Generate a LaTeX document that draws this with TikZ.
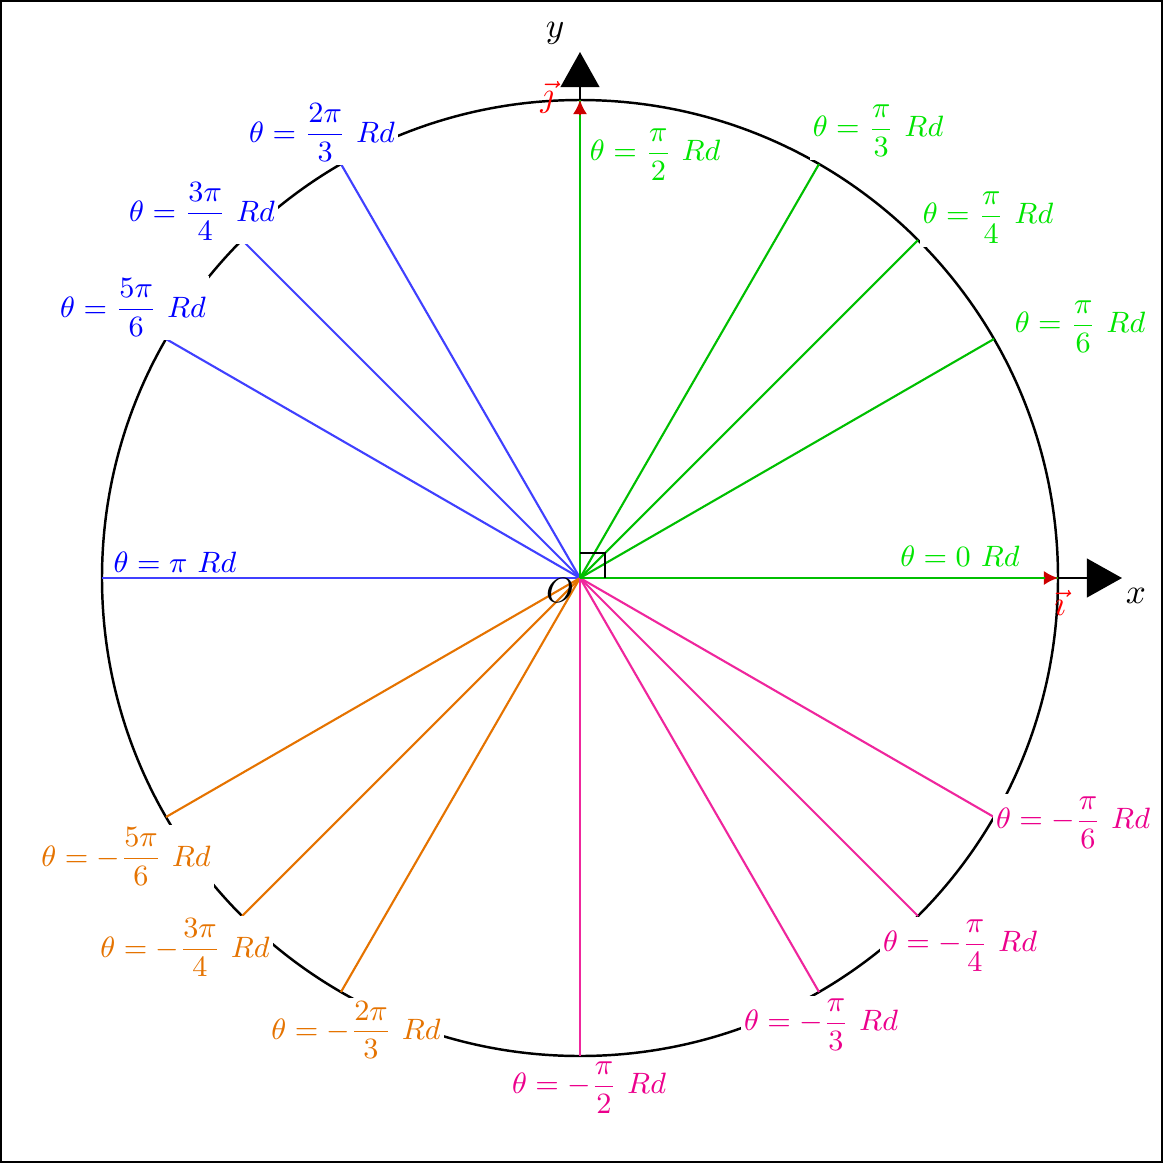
\documentclass[tikz,border=0pt]{standalone}
\usepackage{amsmath}
\usetikzlibrary{arrows.meta}
\begin{document}
\begin{tikzpicture}[x=0.01cm,y=-0.01cm,
  lab/.style={fill=white,inner sep=1pt,font=\small,scale=0.93},
  gl/.style={draw=green!75!black,line width=0.6pt},
  bl/.style={draw=blue!75!white,line width=0.6pt},
  ol/.style={draw=orange!90!black,line width=0.6pt},
  ml/.style={draw=magenta!85!white,line width=0.6pt}]
\useasboundingbox (0,0) rectangle (1163,1163);
\draw[line width=0.8pt] (1,1) rectangle (1162,1162);
\coordinate (O) at (580,578);
\draw[line width=0.7pt] (O) circle [radius=478];
% axes
\coordinate (X) at (1122,578);
\coordinate (Y) at (580,52);
\draw[line width=0.7pt,-{Triangle[length=10pt,width=11pt]}] (O) -- (X);
\draw[line width=0.7pt,-{Triangle[length=10pt,width=11pt]}] (O) -- (Y);
\node (xl) at (1136,596) {$x$};
\node (yl) at (555,33) {$y$};
% rays
\foreach \a/\s in {0/gl,30/gl,45/gl,60/gl,90/gl,120/bl,135/bl,150/bl,180/bl,-150/ol,-135/ol,-120/ol,-90/ml,-60/ml,-45/ml,-30/ml}{
  \coordinate (E\a) at ({580+478*cos(\a)},{578-478*sin(\a)});
  \draw[\s] (O) -- (E\a);
}
% unit vectors
\draw[red!80!black,line width=0.6pt,-{Latex[length=4pt,width=4pt]}] (O) -- (E0);
\draw[red!80!black,line width=0.6pt,-{Latex[length=4pt,width=4pt]}] (O) -- (E90);
\draw[green!75!black,line width=0.6pt] (O) -- (1045,578);
\draw[green!75!black,line width=0.6pt] (O) -- (580,115);
\node[red] (vi) at (1060,603) {$\vec{\imath}$};
\node[red] (vj) at (547,97) {$\vec{\jmath}$};
\node (Ol) at (560,590) {$O$};
\draw[line width=0.5pt] (580,553) -- (605,553) -- (605,578);
% labels
\begin{scope}[every node/.append style={lab}]
\node[text=green!90!black,fill=none,anchor=west] at (586,155) {$\theta=\dfrac{\pi}{2}\ Rd$};
\node[text=green!90!black] at (878,131) {$\theta=\dfrac{\pi}{3}\ Rd$};
\node[text=green!90!black] at (988,218) {$\theta=\dfrac{\pi}{4}\ Rd$};
\node[text=green!90!black] at (1080,327) {$\theta=\dfrac{\pi}{6}\ Rd$};
\node[text=green!90!black] at (960,556) {$\theta=0\ Rd$};
\node[text=blue] at (322,133) {$\theta=\dfrac{2\pi}{3}\ Rd$};
\node[text=blue] at (202,212) {$\theta=\dfrac{3\pi}{4}\ Rd$};
\node[text=blue] at (133,308) {$\theta=\dfrac{5\pi}{6}\ Rd$};
\node[text=blue,fill=none] at (175,562) {$\theta=\pi\ Rd$};
\node[text=orange!90!black] at (126,857) {$\theta=-\dfrac{5\pi}{6}\ Rd$};
\node[text=orange!90!black] at (185,948) {$\theta=-\dfrac{3\pi}{4}\ Rd$};
\node[text=orange!90!black] at (356,1030) {$\theta=-\dfrac{2\pi}{3}\ Rd$};
\node[text=magenta,fill=none] at (589,1088) {$\theta=-\dfrac{\pi}{2}\ Rd$};
\node[text=magenta] at (821,1025) {$\theta=-\dfrac{\pi}{3}\ Rd$};
\node[text=magenta] at (960,946) {$\theta=-\dfrac{\pi}{4}\ Rd$};
\node[text=magenta] at (1073,823) {$\theta=-\dfrac{\pi}{6}\ Rd$};
\end{scope}
\end{tikzpicture}
\end{document}
